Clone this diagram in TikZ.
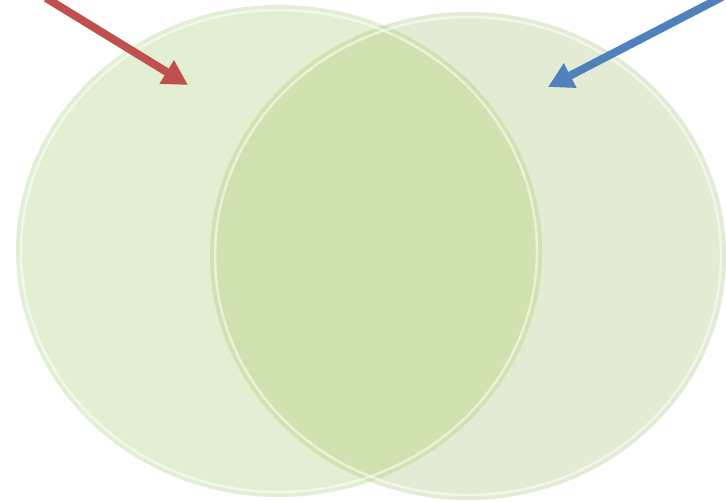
\documentclass[tikz,border=0pt]{standalone}
\usetikzlibrary{arrows.meta}
\definecolor{leftfill}{HTML}{E2EFD2}
\definecolor{rightfill}{HTML}{E4EBD4}
\definecolor{bothfill}{HTML}{CFE2B0}
\definecolor{redarrow}{HTML}{C0504D}
\definecolor{bluearrow}{HTML}{4F81BD}
\tikzset{
  pointer/.style={line width=8pt, -{Triangle[length=25pt,width=26pt]}},
  rim/.style={draw=white, draw opacity=0.55, line width=2.5pt}
}
\begin{document}
\begin{tikzpicture}[x=1pt,y=-1pt]
\useasboundingbox (0,0) rectangle (726,501);
% ellipses
\fill[leftfill] (279,251) ellipse [x radius=263, y radius=246];
\fill[rightfill] (468,256) ellipse [x radius=258, y radius=244];
\begin{scope}
  \clip (279,251) ellipse [x radius=263, y radius=246];
  \fill[bothfill] (468,256) ellipse [x radius=258, y radius=244];
\end{scope}
% glossy rims
\draw[rim] (279,251) ellipse [x radius=258, y radius=241];
\draw[rim] (468,256) ellipse [x radius=253, y radius=239];
% arrow targets
\coordinate (redstart) at (46,-2);
\coordinate (redtip) at (188,85);
\coordinate (bluestart) at (722,-3);
\coordinate (bluetip) at (548,87);
\draw[pointer, redarrow] (redstart) -- (redtip);
\draw[pointer, bluearrow] (bluestart) -- (bluetip);
\end{tikzpicture}
\end{document}
